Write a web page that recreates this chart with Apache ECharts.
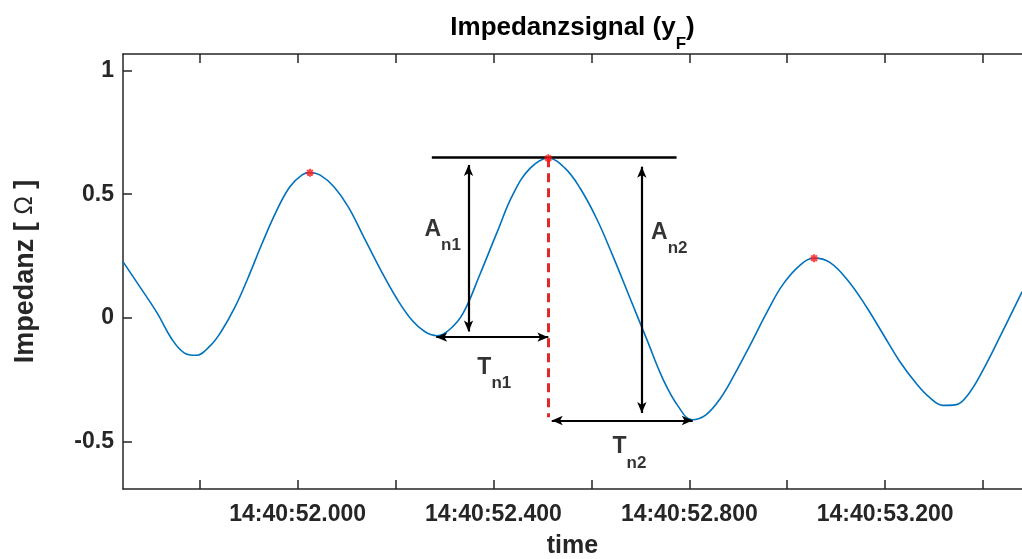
<!DOCTYPE html>
<html>
<head>
<meta charset="utf-8">
<script src="https://cdn.jsdelivr.net/npm/echarts@6/dist/echarts.min.js"></script>
<style>
html,body{margin:0;padding:0;background:#fff;}
#c{width:1022px;height:559px;}
</style>
</head>
<body>
<div id="c"></div>
<script>
// ---- data (time in seconds after 14:40:00) ----
const timeSec = [51.643, 51.678, 51.713, 51.743, 51.768, 51.792, 51.821, 51.845, 51.872, 51.898, 51.927, 51.956, 51.984, 52.009, 52.025, 52.046, 52.074, 52.103, 52.133, 52.168, 52.203, 52.234, 52.260, 52.285, 52.311, 52.338, 52.372, 52.407, 52.440, 52.475, 52.512, 52.546, 52.577, 52.611, 52.644, 52.679, 52.714, 52.746, 52.777, 52.806, 52.834, 52.863, 52.893, 52.924, 52.959, 52.991, 53.026, 53.055, 53.087, 53.124, 53.161, 53.196, 53.230, 53.263, 53.292, 53.318, 53.343, 53.369, 53.400, 53.435, 53.480];
const impedance = [0.228, 0.125, 0.02, -0.085, -0.140, -0.150, -0.112, -0.05, 0.045, 0.16, 0.30, 0.43, 0.53, 0.578, 0.587, 0.577, 0.53, 0.45, 0.335, 0.200, 0.077, -0.01, -0.055, -0.071, -0.045, 0.02, 0.175, 0.345, 0.50, 0.605, 0.645, 0.605, 0.524, 0.40, 0.25, 0.08, -0.09, -0.245, -0.355, -0.41, -0.39, -0.325, -0.225, -0.11, 0.025, 0.135, 0.213, 0.242, 0.225, 0.152, 0.048, -0.065, -0.175, -0.262, -0.322, -0.352, -0.350, -0.31, -0.21, -0.074, 0.107];

// detected peaks (red markers)
const peakTimes = [52.025, 52.512, 53.055];
const peakValues = [0.587, 0.645, 0.242];

// axis ticks
const xTickValues = [51.8, 52.0, 52.2, 52.4, 52.6, 52.8, 53.0, 53.2, 53.4];
const xLabelValues = [52.0, 52.4, 52.8, 53.2];
const yTickValues = [-0.5, 0, 0.5, 1];
const X_MIN = 51.6431, X_MAX = 53.4797;
const Y_MIN = -0.6895, Y_MAX = 1.0657;

// annotations: [x1, y1, x2, y2]
const refLine = [52.274, 0.649, 52.774, 0.649];
const dashedLine = [52.512, 0.645, 52.512, -0.40];
const arrowA1 = [52.349, 0.618, 52.349, -0.054];
const arrowA2 = [52.703, 0.611, 52.703, -0.383];
const arrowT1 = [52.283, -0.077, 52.512, -0.077];
const arrowT2 = [52.519, -0.413, 52.807, -0.413];

// annotation labels: [x, y] top-left anchor, main letter, subscript
const annLabels = [
  [52.259, 0.404, 'A', 'n1'],
  [52.722, 0.391, 'A', 'n2'],
  [52.367, -0.152, 'T', 'n1'],
  [52.643, -0.474, 'T', 'n2']
];

const FONT = '"Liberation Sans", Arial, Helvetica, sans-serif';
const AX = '#262626';

function pad3(v){ return v.toFixed(3).padStart(6,'0'); }

const lineData = timeSec.map((t,i)=>[t, impedance[i]]);
const peakData = peakTimes.map((t,i)=>[t, peakValues[i]]);

function seg(a, sym, style){
  return [
    {coord:[a[0],a[1]], symbol: sym, symbolSize:[7,11], lineStyle: style},
    {coord:[a[2],a[3]], symbol: sym, symbolSize:[7,11], lineStyle: style}
  ];
}
const blk = {color:'#000', width:2.5, type:'solid'};
const arr = {color:'#000', width:2.2, type:'solid'};
const red = {color:'#e02a2a', width:3, type:[9,6]};

const chart = echarts.init(document.getElementById('c'), null, {renderer:'canvas'});
chart.setOption({
  animation:false,
  backgroundColor:'#fff',
  grid:{left:123, right:0, top:54, bottom:70, containLabel:false, outerBoundsMode:'none'},
  xAxis:[{
    type:'value', position:'bottom', min:X_MIN, max:X_MAX,
    axisLine:{show:true, onZero:false, lineStyle:{color:AX, width:1.5}},
    axisTick:{show:true, inside:true, length:9, customValues:xTickValues, lineStyle:{color:AX, width:1.5}},
    axisLabel:{show:true, customValues:xLabelValues, formatter:v=>'14:40:'+pad3(v), fontSize:23, fontWeight:'bold', color:AX, fontFamily:FONT, margin:14},
    splitLine:{show:false},
    name:'time', nameLocation:'middle', nameGap:45,
    nameTextStyle:{fontSize:25, fontWeight:'bold', color:AX, fontFamily:FONT}
  },{
    type:'value', position:'top', min:X_MIN, max:X_MAX,
    axisLine:{show:true, onZero:false, lineStyle:{color:AX, width:1.5}},
    axisTick:{show:true, inside:true, length:9, customValues:xTickValues, lineStyle:{color:AX, width:1.5}},
    axisLabel:{show:false},
    splitLine:{show:false},
    name:'{m|Impedanzsignal (y}{s|F}{m|)}', nameLocation:'middle', nameGap:13,
    nameTextStyle:{
      color:'#000', fontFamily:FONT,
      rich:{
        m:{fontSize:26, fontWeight:'bold', lineHeight:26, verticalAlign:'top', color:'#000', fontFamily:FONT},
        s:{fontSize:17, fontWeight:'bold', lineHeight:17, verticalAlign:'top', padding:[21,0,0,0], color:'#000', fontFamily:FONT}
      }
    }
  }],
  yAxis:[{
    type:'value', position:'left', min:Y_MIN, max:Y_MAX,
    axisLine:{show:true, onZero:false, lineStyle:{color:AX, width:1.5}},
    axisTick:{show:true, inside:true, length:9, customValues:yTickValues, lineStyle:{color:AX, width:1.5}},
    axisLabel:{show:true, customValues:yTickValues, formatter:v=>String(v), fontSize:23, fontWeight:'bold', color:AX, fontFamily:FONT, margin:9},
    splitLine:{show:false},
    name:'{b|Impedanz [ }{o|Ω}{b| ]}', nameLocation:'middle', nameGap:84, nameRotate:90,
    nameTextStyle:{
      color:AX, fontFamily:FONT,
      rich:{
        b:{fontSize:27, fontWeight:'bold', color:AX, fontFamily:FONT},
        o:{fontSize:25, fontWeight:'normal', color:AX, fontFamily:FONT}
      }
    }
  }],
  series:[
    {
      type:'line', data:lineData, smooth:0.4, showSymbol:false, symbol:'none',
      lineStyle:{color:'#0072BD', width:1.6}, silent:true, z:3,
      markLine:{
        silent:true, animation:false, label:{show:false}, emphasis:{disabled:true},
        data:[
          seg(refLine,'none',blk),
          seg(dashedLine,'none',red),
          seg(arrowA1,'arrow',arr),
          seg(arrowA2,'arrow',arr),
          seg(arrowT1,'arrow',arr),
          seg(arrowT2,'arrow',arr)
        ]
      }
    },
    {
      type:'scatter', data:peakData, z:5, silent:true,
      symbol:'path://M5,0L5,10M0,5L10,5M1.5,1.5L8.5,8.5M1.5,8.5L8.5,1.5',
      symbolSize:8,
      itemStyle:{color:'#ff1a1a', borderColor:'#ff1a1a', borderWidth:2}
    },
    {
      type:'scatter', data:annLabels.map(a=>({value:[a[0],a[1]], txt:a[2], sub:a[3]})),
      symbolSize:0, silent:true, z:6,
      label:{
        show:true, position:'inside', align:'left', verticalAlign:'top',
        formatter:p=>'{m|'+p.data.txt+'}{s|'+p.data.sub+'}',
        rich:{
          m:{fontSize:23, fontWeight:'bold', lineHeight:23, verticalAlign:'top', color:'#000', fontFamily:FONT},
          s:{fontSize:17, fontWeight:'bold', lineHeight:17, verticalAlign:'top', padding:[19,0,0,0], color:'#000', fontFamily:FONT}
        }
      }
    }
  ]
});
</script>
</body>
</html>
